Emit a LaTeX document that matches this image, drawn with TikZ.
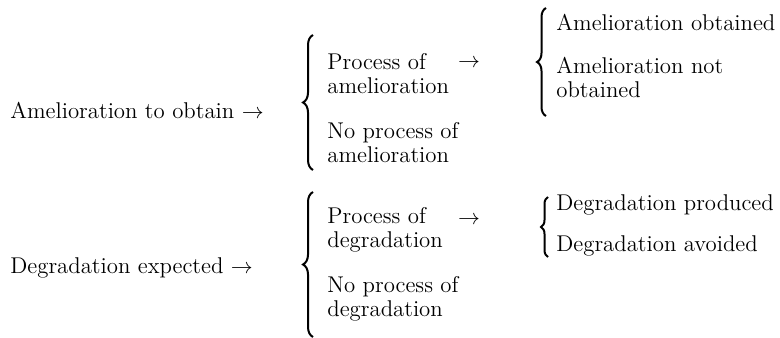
\documentclass[tikz,border=0pt]{standalone}
\usetikzlibrary{decorations.pathreplacing}
\tikzset{
  txt/.style={anchor=west, align=left, inner sep=0pt, font=\fontsize{11.4}{12}\selectfont},
  arr/.style={inner sep=0pt, font=\fontsize{11.4}{12}\selectfont},
  brc/.style={decorate, decoration={brace, amplitude=#1}, line width=1pt},
}
\begin{document}
\begin{tikzpicture}[x=0.5pt,y=-0.5pt]
    \useasboundingbox (0,0) rectangle (780,337);

    % amelioration
    \node[txt] (amel) at (10,110) {Amelioration to obtain $\rightarrow$};
    \draw[brc=5pt] (313,170) -- (313,35); %brace 1
    \node[txt] (pamel) at (327,74) {Process of\\amelioration};
    \node[arr] (arr1) at (469,63) {$\rightarrow$};
    \node[txt] (npamel) at (327,143) {No process of\\amelioration};
    \draw[brc=4.5pt] (546,116) -- (546,8); %brace 2
    \node[txt] (obt) at (556,22) {Amelioration obtained};
    \node[txt] (nobt) at (556,77) {Amelioration not\\obtained};

    % degradation
    \node[txt] (degr) at (10,268) {Degradation expected $\rightarrow$};
    \draw[brc=5pt] (313,337) -- (313,192); %brace 3
    \node[txt] (pdeg) at (327,230) {Process of\\degradation};
    \node[arr] (arr2) at (469,220) {$\rightarrow$};
    \node[txt] (npdeg) at (327,299) {No process of\\degradation};
    \draw[brc=3.5pt] (548,257) -- (548,197); %brace 4
    \node[txt] (prod) at (556,205) {Degradation produced};
    \node[txt] (avoid) at (556,246) {Degradation avoided};
\end{tikzpicture}
\end{document}
